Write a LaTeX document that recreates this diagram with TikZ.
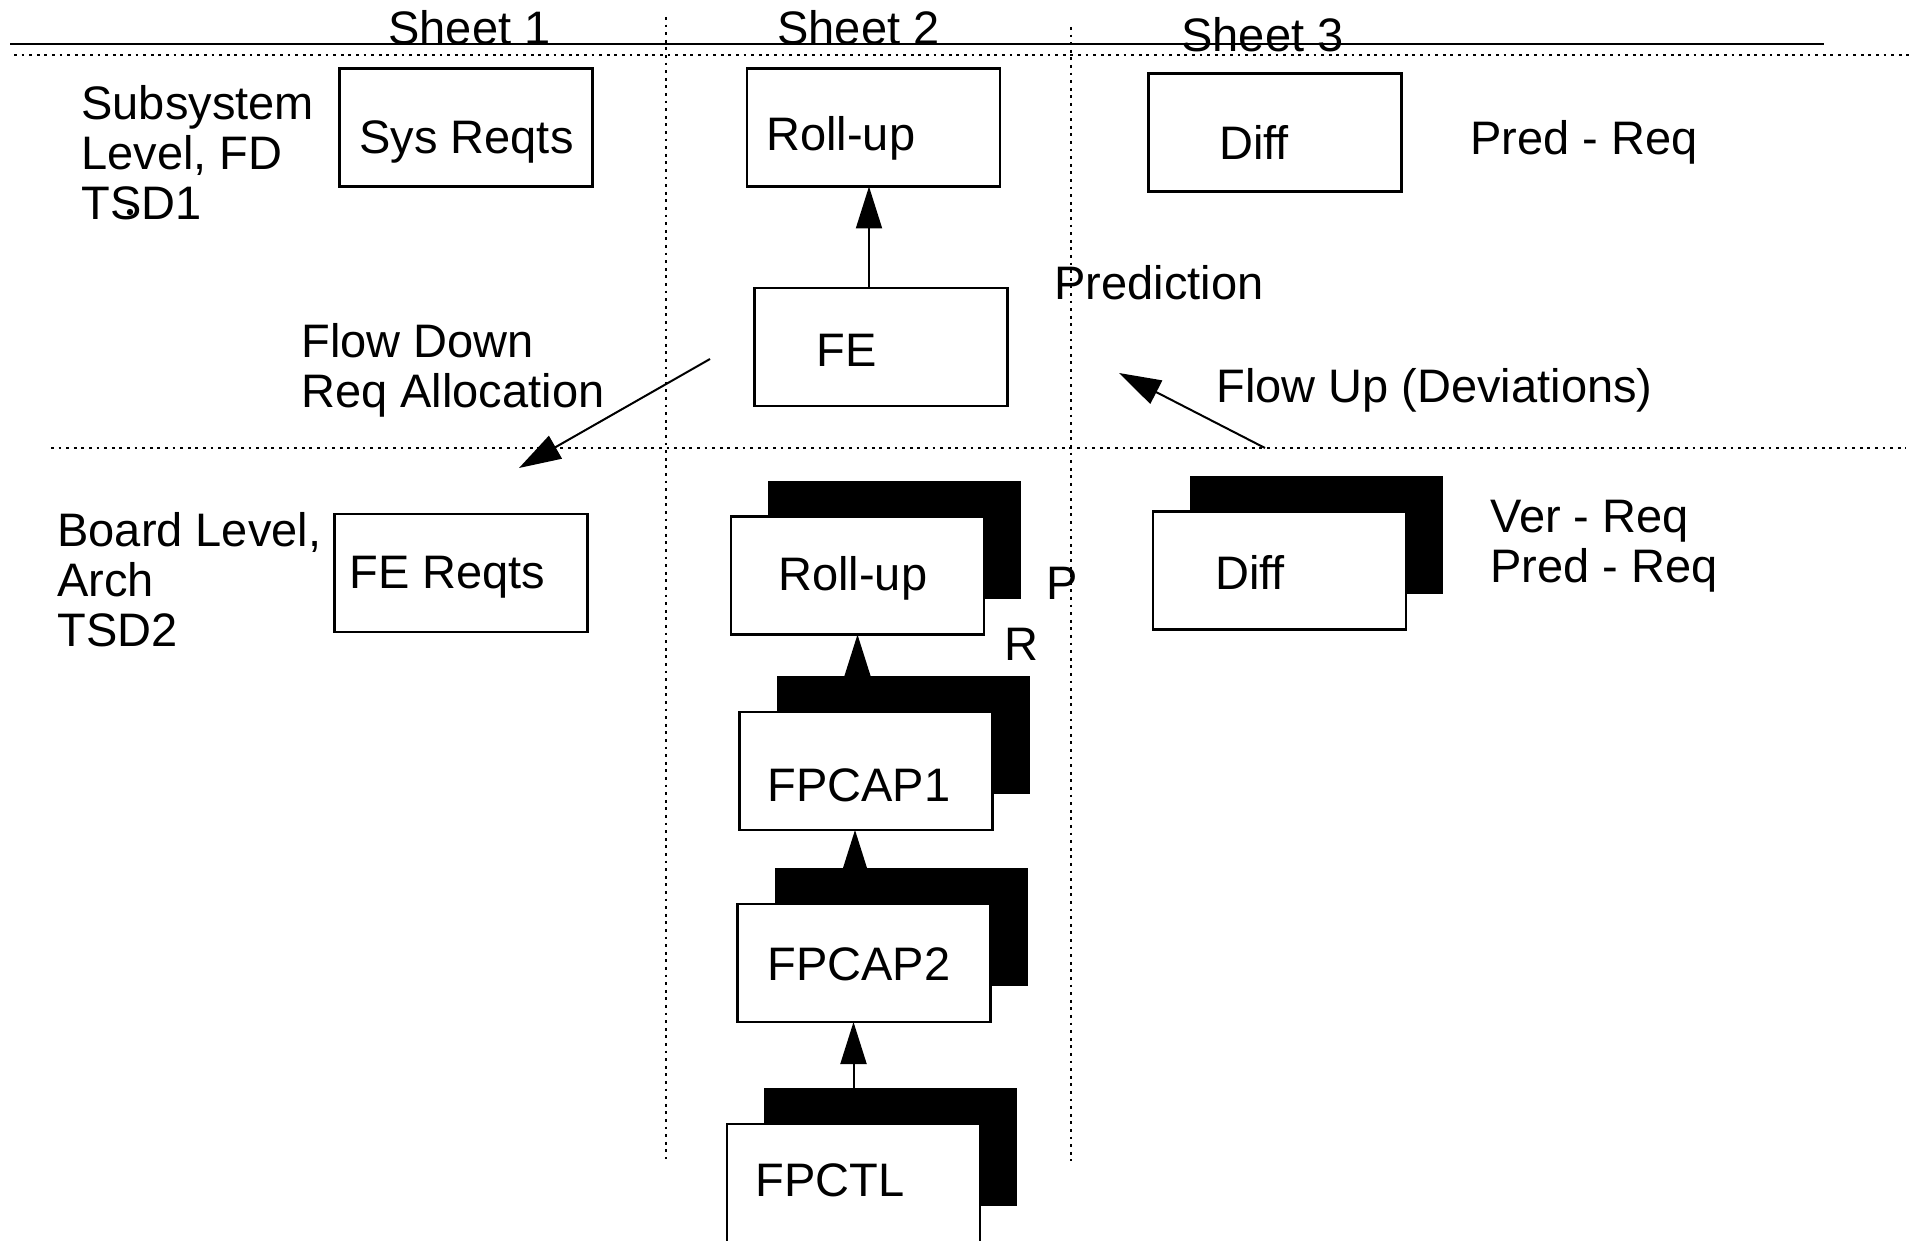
\documentclass[tikz,border=0pt]{standalone}
\usepackage{fontspec}
\setmainfont{Liberation Sans}
\usetikzlibrary{arrows.meta}

\begin{document}
\begin{tikzpicture}[x=0.5pt,y=-0.5pt]

\tikzstyle{box}=[draw,fill=white,line width=1.25pt,minimum width=126.5pt,minimum height=59pt,inner sep=0pt,outer sep=0pt]
\tikzstyle{shd}=[fill=black,minimum width=126.5pt,minimum height=59pt,inner sep=0pt,outer sep=0pt]
\tikzstyle{lbl}=[anchor=base west,inner sep=0pt,align=left,font=\fontsize{23.5}{25}\selectfont]
\tikzstyle{dots}=[line width=1.4pt,dash pattern=on 1.4pt off 2.4pt]
\tikzstyle{arr}=[line width=1pt,-{Triangle[length=21pt,width=13pt]}]

\clip (0,0) rectangle (1913,1241);
\fill[white] (0,0) rectangle (1913,1241);

% sheet header and grid
\draw[line width=1.25pt] (10,44) -- (1824,44);
\draw[dots] (14,55) -- (1913,55);
\draw[dots] (51,448) -- (1906,448);
\draw[dots] (666,17) -- (666,1159);
\draw[dots] (1071,27) -- (1071,1161);

\node[lbl] (sh1) at (388,45) {Sheet 1};
\node[lbl] (sh2) at (777,45) {Sheet 2};
\node[lbl] (sh3) at (1181,52) {Sheet 3};

% subsystem level
\node[lbl] (sub) at (81,220) {Subsystem\\Level, FD\\TSD1};
\fill (130,212) circle[radius=1.6pt];

\node[box] (sys) at (466,127.5) {};
\node[box] (rut) at (873.5,127.5) {};
\node[box] (dft) at (1275,132.5) {};
\node[box] (fe) at (881,347) {};

\node[lbl] at (359,154) {Sys Reqts};
\node[lbl] at (766,151) {Roll-up};
\node[lbl] at (1219,160) {Diff};
\node[lbl] at (816,366) {FE};
\node[lbl] (pr1) at (1470,155) {Pred - Req};
\node[lbl] (prd) at (1054,300) {Prediction};

% board level
\node[lbl] (brd) at (57,646) {Board Level,\\Arch\\TSD2};
\node[box] (fer) at (461,573) {};
\node[lbl] at (349,588) {FE Reqts};

\node[shd] (rubs) at (894.5,539.5) {};
\node[box] (rub) at (857.5,575.5) {};
\node[shd] (dfbs) at (1316.5,534.5) {};
\node[box] (dfb) at (1279.5,570.5) {};
\node[shd] (f1s) at (903,735) {};
\node[box] (f1) at (866,771) {};
\node[shd] (f2s) at (901,927) {};
\node[box] (f2) at (864,963) {};
\node[shd] (fcs) at (890.5,1147) {};
\node[box] (fc) at (853.5,1183) {};

\node[lbl] at (778,590) {Roll-up};
\node[lbl] at (1215,589) {Diff};
\node[lbl] at (767,801) {FPCAP1};
\node[lbl] at (767,980) {FPCAP2};
\node[lbl] at (755,1196) {FPCTL};
\node[lbl] (pp) at (1046,599) {P};
\node[lbl] (rr) at (1004,660) {R};
\node[lbl] (vrq) at (1490,582) {Ver - Req\\Pred - Req};

% flows
\node[lbl] (fdn) at (301,408) {Flow Down\\Req Allocation};
\node[lbl] (fup) at (1216,402) {Flow Up (Deviations)};

\node[shape=coordinate] (tx) at (869,0){};
\node[shape=coordinate] (bx) at (855,0){};
\node[shape=coordinate] (fds) at (710,359){};
\node[shape=coordinate] (fde) at (519,468){};
\node[shape=coordinate] (fus) at (1265,448){};
\node[shape=coordinate] (fue) at (1119,373){};

\draw[arr] (tx |- fe.north) -- (tx |- rut.south);
\draw[arr] (fds) -- (fde);
\draw[arr] (fus) -- (fue);
\draw[arr] (rub.south |- f1s.north) -- (rub.south);
\draw[arr] (bx |- f2s.north) -- (bx |- f1.south);
\draw[arr] (fc.north |- fcs.north) -- (fc.north |- f2.south);

\end{tikzpicture}
\end{document}
